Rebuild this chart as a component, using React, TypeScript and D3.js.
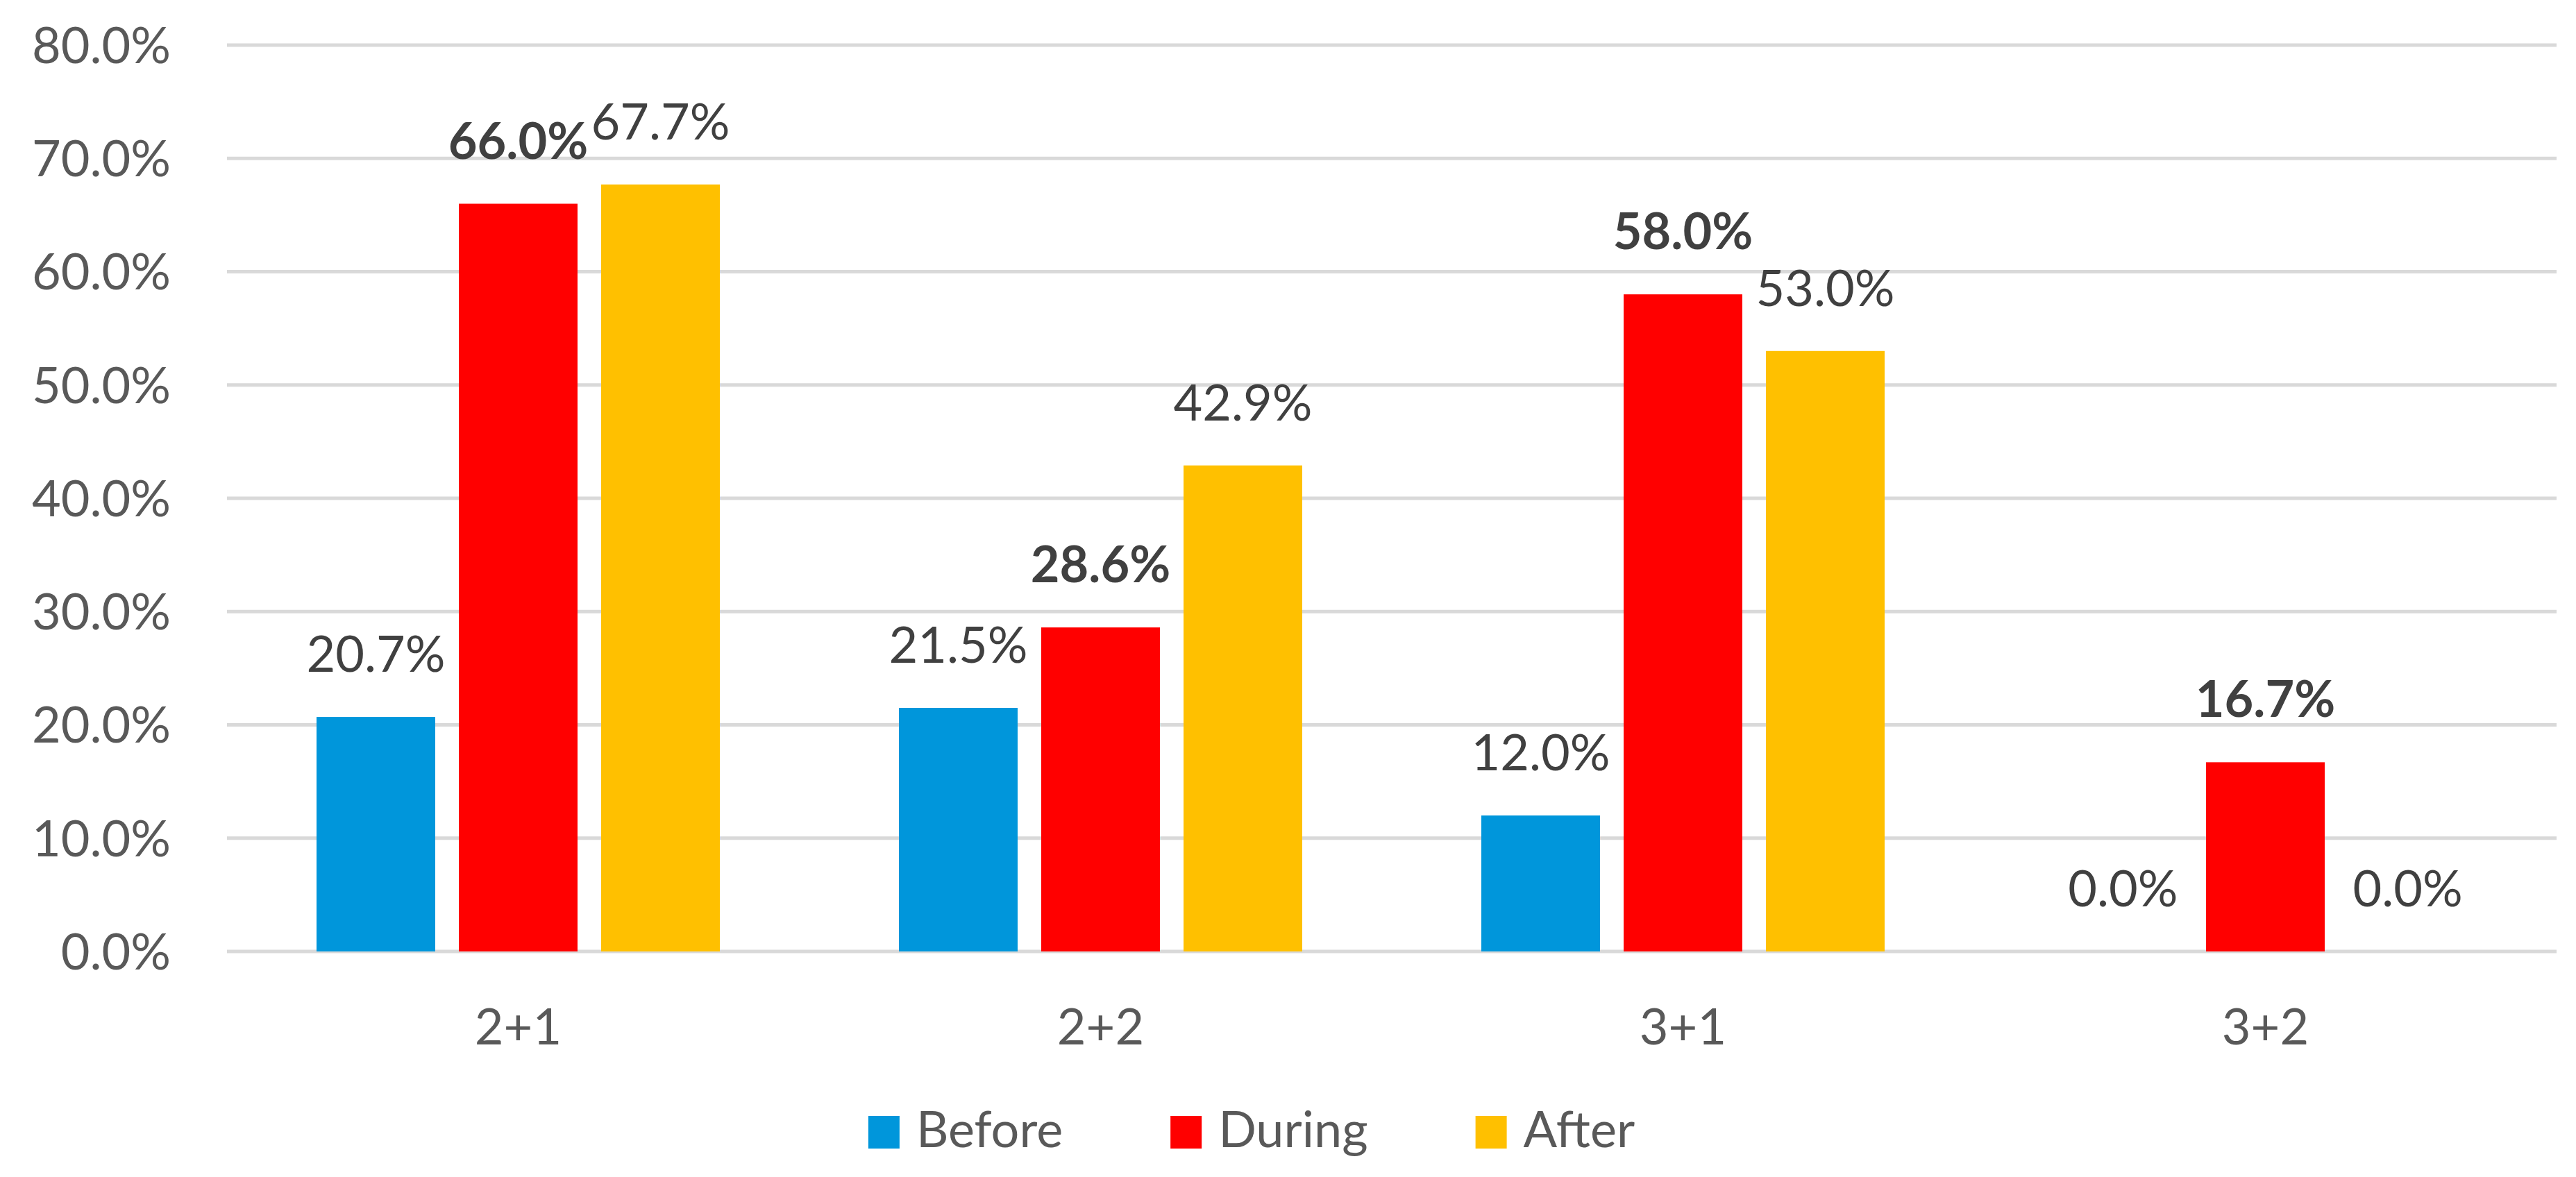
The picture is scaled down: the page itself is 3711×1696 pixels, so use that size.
import { useEffect, useRef } from "react"
import * as d3 from "d3"

// datos del gráfico
const categorias = ["2+1", "2+2", "3+1", "3+2"]
const series = ["Before", "During", "After"]
const valoresBefore = [20.7, 21.5, 12.0, 0.0]
const valoresDuring = [66.0, 28.6, 58.0, 16.7]
const valoresAfter = [67.7, 42.9, 53.0, 0.0]
const ticksY = [0, 10, 20, 30, 40, 50, 60, 70, 80]
const colores = ["#0096DB", "#FF0000", "#FFC000"]

const W = 3711
const H = 1696

export default function App() {
  const svgRef = useRef<SVGSVGElement>(null)

  useEffect(() => {
    if (!svgRef.current) return
    const svg = d3.select(svgRef.current)
    svg.selectAll("*").remove()

    const font = "Lato, 'Open Sans', sans-serif"
    const margin = { left: 327, right: W - 3683, top: 65, bottom: H - 1371 }

    const valores = [valoresBefore, valoresDuring, valoresAfter]
    const filas = categorias.map((c, i) => ({
      cat: c,
      vals: series.map((s, j) => ({ serie: s, idx: j, v: valores[j][i] })),
    }))

    const x0 = d3
      .scaleBand()
      .domain(categorias)
      .range([margin.left, W - margin.right])
      .paddingInner(0.3075)
      .paddingOuter(0.15375)

    const x1 = d3.scaleBand().domain(series).range([0, x0.bandwidth()]).paddingInner(0.166)

    const y = d3.scaleLinear().domain([0, 80]).range([H - margin.bottom, margin.top])

    // gridlines
    svg
      .append("g")
      .selectAll("line")
      .data(ticksY)
      .enter()
      .append("line")
      .attr("x1", margin.left)
      .attr("x2", W - margin.right)
      .attr("y1", (d) => y(d))
      .attr("y2", (d) => y(d))
      .attr("stroke", "#D9D9D9")
      .attr("stroke-width", 5)

    // eje Y
    svg
      .append("g")
      .selectAll("text")
      .data(ticksY)
      .enter()
      .append("text")
      .attr("x", 246)
      .attr("y", (d) => y(d))
      .attr("dy", "0.36em")
      .attr("text-anchor", "end")
      .attr("fill", "#595959")
      .style("font-family", font)
      .style("font-size", "72px")
      .text((d) => d.toFixed(1) + "%")

    // barras
    const grupos = svg
      .append("g")
      .selectAll("g")
      .data(filas)
      .enter()
      .append("g")
      .attr("transform", (d) => `translate(${x0(d.cat)},0)`)

    grupos
      .selectAll("rect")
      .data((d) => d.vals)
      .enter()
      .append("rect")
      .attr("x", (d) => x1(d.serie)!)
      .attr("width", x1.bandwidth())
      .attr("y", (d) => y(d.v))
      .attr("height", (d) => y(0) - y(d.v))
      .attr("fill", (d) => colores[d.idx])

    // etiquetas de datos
    grupos
      .selectAll("text")
      .data((d) => d.vals)
      .enter()
      .append("text")
      .attr("x", (d) => x1(d.serie)! + x1.bandwidth() / 2)
      .attr("y", (d) => y(d.v) - 65)
      .attr("text-anchor", "middle")
      .attr("fill", "#404040")
      .style("font-family", font)
      .style("font-size", "72px")
      .style("font-weight", (d) => (d.serie === "During" ? "bold" : "normal"))
      .text((d) => d.v.toFixed(1) + "%")

    // eje X
    svg
      .append("g")
      .selectAll("text")
      .data(categorias)
      .enter()
      .append("text")
      .attr("x", (d) => x0(d)! + x0.bandwidth() / 2)
      .attr("y", 1505)
      .attr("text-anchor", "middle")
      .attr("fill", "#595959")
      .style("font-family", font)
      .style("font-size", "72px")
      .text((d) => d)

    // leyenda
    const leyenda = svg.append("g")
    const items = series.map((s, i) => {
      const g = leyenda.append("g")
      g.append("rect").attr("x", 0).attr("y", 1608).attr("width", 45).attr("height", 47).attr("fill", colores[i])
      const t = g
        .append("text")
        .attr("x", 69)
        .attr("y", 1653)
        .attr("fill", "#595959")
        .style("font-family", font)
        .style("font-size", "72px")
        .text(s)
      const w = 69 + (t.node() as SVGTextElement).getComputedTextLength()
      return { g, w }
    })
    const gap = 155
    const total = d3.sum(items, (d) => d.w) + gap * (items.length - 1)
    let cx = 1803 - total / 2
    items.forEach((it) => {
      it.g.attr("transform", `translate(${cx},0)`)
      cx += it.w + gap
    })
  }, [])

  return (
    <svg
      ref={svgRef}
      width={W}
      height={H}
      style={{ position: "absolute", left: 0, top: 0, background: "#fff" }}
    />
  )
}
